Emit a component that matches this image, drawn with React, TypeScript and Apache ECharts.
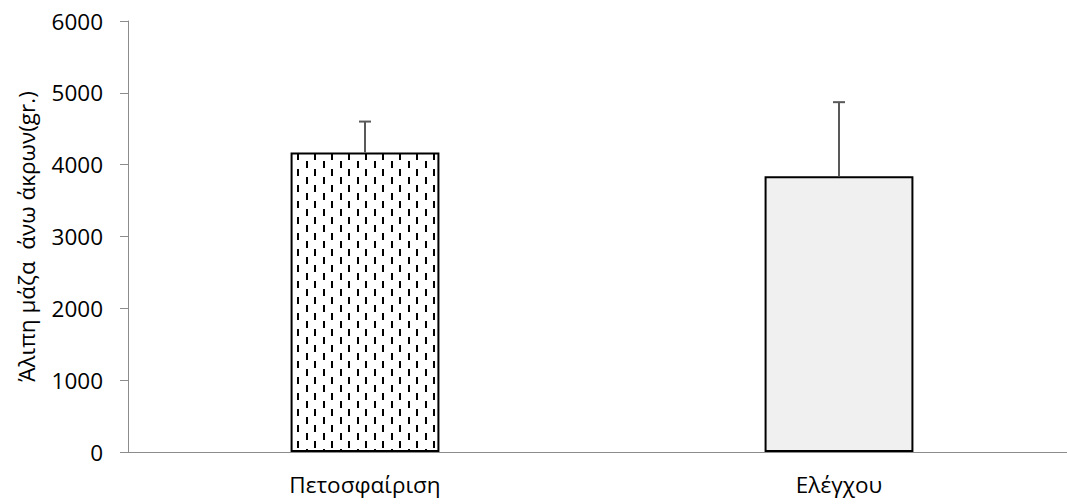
import React, { useEffect, useRef } from "react";
import * as echarts from "echarts";

const categories = ["Πετοσφαίριση", "Ελέγχου"];
const means = [4170, 3840];
const errUpper = [4600, 4870];
const yTicks = [0, 1000, 2000, 3000, 4000, 5000, 6000];
const yTitle = "Άλιπη μάζα  άνω άκρων(gr.)";

const FONT = "'Open Sans', sans-serif";

function makePattern(): HTMLCanvasElement {
  const c = document.createElement("canvas");
  c.width = 17;
  c.height = 16;
  const ctx = c.getContext("2d")!;
  ctx.fillStyle = "#ffffff";
  ctx.fillRect(0, 0, 17, 16);
  ctx.fillStyle = "#000000";
  ctx.fillRect(0, 1, 2, 7);
  ctx.fillRect(8, 9, 2, 7);
  return c;
}

export default function App() {
  const ref = useRef<HTMLDivElement>(null);
  useEffect(() => {
    if (!ref.current) return;
    const chart = echarts.init(ref.current, undefined, { renderer: "svg" });
    const pattern = makePattern();
    chart.setOption({
      animation: false,
      grid: { left: 128, right: 14, top: 21, bottom: 52 },
      xAxis: {
        type: "category",
        data: categories,
        axisLine: { lineStyle: { color: "#8c8c8c", width: 1 } },
        axisTick: { alignWithLabel: true, length: 6, lineStyle: { color: "#8c8c8c" } },
        axisLabel: { color: "#000", fontFamily: FONT, fontSize: 22.5, margin: 21 },
      },
      yAxis: {
        type: "value",
        min: yTicks[0],
        max: yTicks[yTicks.length - 1],
        interval: 1000,
        name: yTitle,
        nameLocation: "middle",
        nameRotate: 90,
        nameGap: 90,
        nameTextStyle: { color: "#000", fontFamily: FONT, fontSize: 22.5 },
        axisLine: { show: true, lineStyle: { color: "#8c8c8c", width: 1 } },
        axisTick: { show: true, length: 8, lineStyle: { color: "#8c8c8c" } },
        splitLine: { show: false },
        axisLabel: {
          color: "#000",
          fontFamily: FONT,
          fontSize: 22.5,
          margin: 25,
          formatter: (v: number) => String(v),
        },
      },
      series: [
        {
          type: "bar",
          barWidth: "31.4%",
          data: [
            {
              value: means[0],
              itemStyle: {
                color: { image: pattern, repeat: "repeat" },
                borderColor: "#000",
                borderWidth: 2,
              },
            },
            {
              value: means[1],
              itemStyle: { color: "#f0f0f0", borderColor: "#000", borderWidth: 2 },
            },
          ],
        },
        {
          type: "custom",
          data: categories.map((_, i) => [i, means[i], errUpper[i]]),
          renderItem: (params: any, api: any) => {
            const x = api.value(0);
            const base = api.coord([x, api.value(1)]);
            const top = api.coord([x, api.value(2)]);
            const style = { stroke: "#595959", lineWidth: 2 };
            return {
              type: "group",
              children: [
                { type: "line", shape: { x1: base[0], y1: base[1], x2: top[0], y2: top[1] }, style },
                { type: "line", shape: { x1: top[0] - 6, y1: top[1], x2: top[0] + 6, y2: top[1] }, style },
              ],
            };
          },
          z: 3,
        },
      ],
    });
    return () => chart.dispose();
  }, []);
  return (
    <div style={{ position: "fixed", left: 0, top: 0, width: 1067, height: 504, overflow: "hidden", background: "#fff" }}>
      <div ref={ref} style={{ width: 1090, height: 504 }} />
    </div>
  );
}
